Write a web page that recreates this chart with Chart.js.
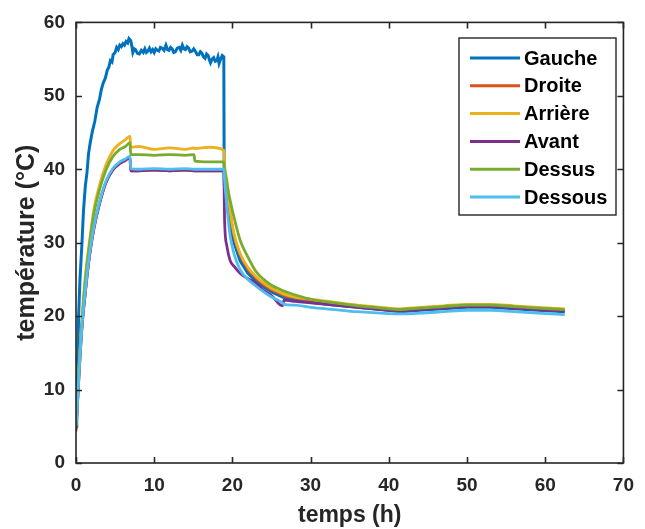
<!DOCTYPE html>
<html>
<head>
<meta charset="utf-8">
<script src="https://cdn.jsdelivr.net/npm/chart.js@4/dist/chart.umd.min.js"></script>
<style>
  html, body { margin: 0; padding: 0; background: #fff; }
  #wrap { width: 645px; height: 529px; }
</style>
</head>
<body>
<div id="wrap"><canvas id="chart" width="645" height="529"></canvas></div>
<script>
// temps commun (h) pour les 5 capteurs "lisses"
const temps = [0, 0.15, 0.4, 0.75, 1.2, 1.7, 2.3, 3, 3.8, 4.7, 5.6, 6.3, 6.9, 7.0, 8, 10, 12, 14, 15.1, 15.2, 17, 18.9,
  19.0, 19.3, 19.7, 20.2, 21, 22, 23, 24, 25, 26.4, 26.6, 28, 30, 33, 36, 39, 41.5, 44, 47, 50, 53, 56, 59, 62.5];

const droite  = [4.3, 7.3, 12.3, 18.3, 23.3, 28.0, 32.0, 35.3, 38.1, 39.9, 40.8, 41.2, 41.6, 39.8, 39.8, 39.9, 39.8, 39.9, 39.8, 39.8, 39.8, 39.8,
  39.5, 37.5, 34.2, 31.0, 28.3, 26.4, 25.2, 24.3, 23.6, 22.9, 22.8, 22.5, 22.2, 21.8, 21.4, 21.1, 20.9, 21.1, 21.3, 21.5, 21.5, 21.3, 21.1, 20.9];
const arriere = [5.0, 8.5, 13.5, 19.5, 25.5, 30.0, 34.6, 37.8, 40.5, 42.5, 43.5, 44.0, 44.5, 43.0, 43.1, 42.7, 42.9, 42.7, 42.9, 42.8, 43.0, 42.6,
  40.5, 38.5, 34.5, 31.2, 28.5, 26.6, 25.4, 24.5, 23.8, 23.1, 23.0, 22.6, 22.3, 21.9, 21.5, 21.2, 21.0, 21.2, 21.4, 21.6, 21.6, 21.4, 21.2, 21.0];
const avant   = [4.6, 7.3, 12.3, 18.3, 23.3, 28.0, 32.0, 35.3, 38.1, 39.9, 40.8, 41.2, 41.6, 39.8, 39.8, 39.9, 39.8, 39.9, 39.8, 39.8, 39.8, 39.8,
  33.0, 29.5, 27.6, 26.8, 25.8, 25.1, 24.5, 23.5, 22.8, 21.4, 22.2, 22.0, 21.8, 21.5, 21.2, 20.9, 20.7, 20.9, 21.1, 21.3, 21.3, 21.1, 20.9, 20.7];
const dessus  = [5.0, 8.2, 13.2, 19.0, 25.0, 29.5, 34.0, 37.2, 39.8, 41.7, 42.7, 43.1, 43.6, 42.0, 42.0, 41.9, 42.0, 41.9, 42.0, 41.1, 41.0, 41.0,
  40.0, 38.0, 35.8, 33.5, 30.3, 28.0, 26.1, 25.0, 24.2, 23.5, 23.4, 22.9, 22.3, 21.8, 21.4, 21.1, 20.9, 21.1, 21.3, 21.5, 21.5, 21.3, 21.1, 20.9];
const dessous = [5.2, 7.5, 12.5, 18.5, 23.5, 28.2, 32.2, 35.5, 38.3, 40.1, 41.0, 41.4, 41.8, 40.1, 40.0, 40.1, 40.0, 40.1, 40.0, 40.0, 40.0, 40.0,
  38.5, 34.9, 31.0, 28.5, 26.3, 25.0, 24.1, 23.3, 22.6, 21.8, 21.6, 21.5, 21.2, 20.9, 20.6, 20.4, 20.3, 20.4, 20.6, 20.8, 20.8, 20.6, 20.4, 20.2];

// Gauche : son propre échantillonnage (signal bruité)
const tempsGauche = [0, 0.1, 0.2, 0.33, 0.5, 0.76, 0.95, 1.18, 1.4, 1.6, 1.8, 2.1, 2.4, 2.7, 3.0, 3.25, 3.5, 3.75, 4.0, 4.2,
  4.4, 4.6, 4.75, 5.0, 5.2, 5.4, 5.6, 5.8, 6.0, 6.2, 6.4, 6.6, 6.77, 7.0, 7.15, 7.27, 7.45, 7.6, 7.85, 8.1,
  8.35, 8.6, 8.8, 9.0, 9.2, 9.4, 9.6, 9.8, 10.0, 10.2, 10.4, 10.6, 10.8, 11.0, 11.25, 11.5, 11.7, 11.9, 12.1, 12.3,
  12.5, 12.7, 12.95, 13.2, 13.4, 13.6, 13.8, 14.0, 14.2, 14.4, 14.6, 14.85, 15.05, 15.3, 15.5, 15.7, 15.9, 16.1, 16.3, 16.5,
  16.7, 16.9, 17.05, 17.2, 17.4, 17.6, 17.8, 18.0, 18.15, 18.3, 18.5, 18.7, 18.9, 18.95, 19.3, 19.7, 20.2, 21, 22, 23,
  24, 25, 26.4, 28, 30, 33, 36, 39, 41.5, 44, 47, 50, 53, 56, 59, 62.5];
const gauche = [5.0, 6.8, 12.5, 19.9, 24.8, 29.9, 34.2, 37.6, 39.5, 42.1, 43.5, 45.2, 46.5, 48.4, 49.5, 50.9, 51.8, 52.4, 53.5, 53.9,
  54.8, 54.6, 55.6, 55.9, 56.6, 56.3, 56.9, 56.7, 57.1, 56.9, 57.4, 57.2, 57.8, 57.5, 56.7, 55.9, 56.4, 56.3, 55.8, 55.7,
  56.2, 55.9, 56.4, 55.9, 56.1, 56.5, 56.0, 56.3, 55.9, 56.4, 56.2, 56.1, 56.6, 56.5, 56.2, 56.9, 56.3, 56.2, 56.6, 56.4,
  55.9, 56.0, 56.5, 56.6, 56.2, 56.9, 56.4, 56.3, 56.7, 56.5, 56.0, 56.1, 56.4, 56.0, 55.6, 55.6, 56.0, 55.8, 55.3, 55.1,
  55.7, 55.5, 54.9, 54.5, 55.0, 55.2, 54.7, 54.8, 55.3, 54.4, 55.0, 55.5, 55.3, 38.0, 35.5, 32.5, 30.0, 27.5, 25.8, 24.8,
  24.0, 23.3, 22.6, 22.2, 21.9, 21.5, 21.2, 20.9, 20.6, 20.8, 21.0, 21.2, 21.2, 21.0, 20.8, 20.6];

const noms = ['Gauche', 'Droite', 'Arrière', 'Avant', 'Dessus', 'Dessous'];
const couleurs = ['#0072BD', '#D95319', '#EDB120', '#7E2F8E', '#77AC30', '#4DBEEE'];
const series = [gauche, droite, arriere, avant, dessus, dessous];

const FONT = "'Liberation Sans', Arial, sans-serif";
const INK = '#262626';

function points(xs, ys) {
  return xs.map((x, i) => ({ x: x, y: ys[i] }));
}

// cadre, graduations vers l'intérieur et légende façon MATLAB
const matlabBox = {
  id: 'matlabBox',
  afterDatasetsDraw(chart) {
    const ctx = chart.ctx;
    const a = chart.chartArea;
    const xs = chart.scales.x, ys = chart.scales.y;
    ctx.save();
    ctx.strokeStyle = INK;
    ctx.lineWidth = 1.6;
    ctx.strokeRect(a.left, a.top, a.right - a.left, a.bottom - a.top);
    ctx.beginPath();
    xs.ticks.forEach(t => {
      const px = Math.round(xs.getPixelForValue(t.value)) + 0.5;
      ctx.moveTo(px, a.bottom); ctx.lineTo(px, a.bottom - 6);
      ctx.moveTo(px, a.top); ctx.lineTo(px, a.top + 6);
    });
    ys.ticks.forEach(t => {
      const py = Math.round(ys.getPixelForValue(t.value)) + 0.5;
      ctx.moveTo(a.left, py); ctx.lineTo(a.left + 6, py);
      ctx.moveTo(a.right, py); ctx.lineTo(a.right - 6, py);
    });
    ctx.stroke();

    // légende
    const bx = 459, by = 38, bw = 157, bh = 177;
    ctx.fillStyle = '#fff';
    ctx.fillRect(bx, by, bw, bh);
    ctx.strokeStyle = INK;
    ctx.lineWidth = 1.4;
    ctx.strokeRect(bx, by, bw, bh);
    ctx.font = 'bold 20px ' + FONT;
    ctx.textBaseline = 'middle';
    noms.forEach((n, i) => {
      const y = 58 + i * 27.8;
      ctx.strokeStyle = couleurs[i];
      ctx.lineWidth = 3;
      ctx.beginPath();
      ctx.moveTo(470, y); ctx.lineTo(520, y);
      ctx.stroke();
      ctx.fillStyle = '#000';
      ctx.fillText(n, 524, y + 1);
    });
    ctx.restore();
  }
};

new Chart(document.getElementById('chart'), {
  type: 'line',
  data: {
    datasets: series.map((s, i) => ({
      label: noms[i],
      data: i === 0 ? points(tempsGauche, s) : points(temps, s),
      borderColor: couleurs[i],
      backgroundColor: couleurs[i],
      borderWidth: i === 0 ? 3 : 2.8,
      pointRadius: 0,
      tension: 0,
      cubicInterpolationMode: i === 0 ? 'default' : 'monotone',
      order: 5 - i
    }))
  },
  options: {
    responsive: false,
    animation: false,
    devicePixelRatio: 1,
    layout: { padding: { left: 0, top: 22, right: 15, bottom: 0 } },
    plugins: { legend: { display: false }, tooltip: { enabled: false } },
    scales: {
      x: {
        type: 'linear', min: 0, max: 70,
        grid: { display: false, drawTicks: false },
        border: { display: false },
        ticks: { stepSize: 10, padding: 11, color: INK, font: { family: FONT, size: 19, weight: 'bold' } },
        title: { display: true, text: 'temps (h)', color: INK, padding: { top: 0, bottom: 0 }, font: { family: FONT, size: 23, weight: 'bold' } },
        afterFit(s) { s.height = 66; }
      },
      y: {
        type: 'linear', min: 0, max: 60,
        grid: { display: false, drawTicks: false },
        border: { display: false },
        ticks: { stepSize: 10, padding: 11, color: INK, font: { family: FONT, size: 19, weight: 'bold' } },
        title: { display: true, text: 'température (°C)', color: INK, padding: { top: 12, bottom: 0 }, font: { family: FONT, size: 25, weight: 'bold' } },
        afterFit(s) { s.width = 76; }
      }
    }
  },
  plugins: [matlabBox]
});
</script>
</body>
</html>
